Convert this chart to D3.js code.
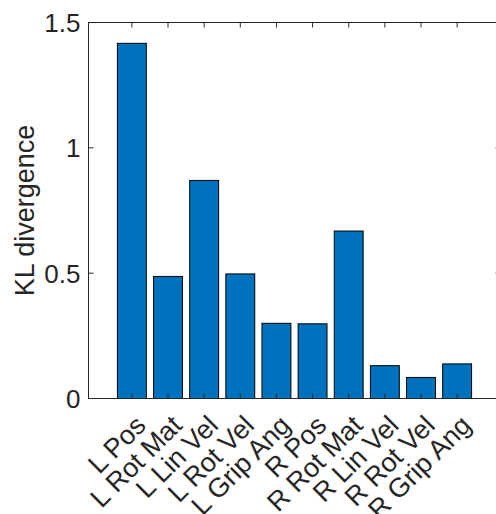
<!DOCTYPE html>
<html><head><meta charset="utf-8">
<script src="https://cdn.jsdelivr.net/npm/d3@7"></script>
<style>body{margin:0;background:#fff}svg{display:block}</style>
</head><body>
<script>
const categories = ["L Pos","L Rot Mat","L Lin Vel","L Rot Vel","L Grip Ang","R Pos","R Rot Mat","R Lin Vel","R Rot Vel","R Grip Ang"];
const values = [1.417,0.487,0.870,0.497,0.300,0.298,0.668,0.131,0.084,0.138];
const yTicks = [0,0.5,1,1.5];
const yTickLabels = ["0","0.5","1","1.5"];
const yLabel = "KL divergence";

const W=496,H=514;
const svg=d3.select("body").append("svg").attr("width",W).attr("height",H);
const L=88.5,R=500.5,T=22.5,B=398.5;
const x=d3.scaleLinear().domain([-0.2,11.2]).range([L,R]);
const y=d3.scaleLinear().domain([0,1.5]).range([B,T]);
const col="#262626", font="Liberation Sans, Arial, Helvetica, sans-serif";
const bw=0.8;

svg.append("g").selectAll("rect").data(values).join("rect")
  .attr("x",(d,i)=>x(i+1-bw/2)).attr("width",(d,i)=>x(i+1+bw/2)-x(i+1-bw/2))
  .attr("y",d=>y(d)).attr("height",d=>y(0)-y(d))
  .attr("fill","#0072BD").attr("stroke","#000").attr("stroke-width",1);

// box
svg.append("rect").attr("x",L).attr("y",T).attr("width",R-L).attr("height",B-T)
  .attr("fill","none").attr("stroke",col).attr("stroke-width",1);

const tl=5;
const xt=d3.range(1,categories.length+1);
svg.append("g").selectAll("line.b").data(xt).join("line")
  .attr("x1",d=>x(d)).attr("x2",d=>x(d)).attr("y1",B).attr("y2",B-tl).attr("stroke",col);
svg.append("g").selectAll("line.t").data(xt).join("line")
  .attr("x1",d=>x(d)).attr("x2",d=>x(d)).attr("y1",T).attr("y2",T+tl).attr("stroke",col);
svg.append("g").selectAll("line.l").data(yTicks).join("line")
  .attr("x1",L).attr("x2",L+tl).attr("y1",d=>y(d)).attr("y2",d=>y(d)).attr("stroke",col);
svg.append("g").selectAll("line.r").data(yTicks).join("line")
  .attr("x1",R).attr("x2",R-tl).attr("y1",d=>y(d)).attr("y2",d=>y(d)).attr("stroke",col);

svg.append("g").selectAll("text").data(yTicks).join("text")
  .attr("x",L-8).attr("y",d=>y(d)).attr("dy","0.36em")
  .attr("text-anchor","end").attr("font-family",font).attr("font-size",26).attr("fill",col)
  .text((d,i)=>yTickLabels[i]);

svg.append("g").selectAll("text").data(categories).join("text")
  .attr("transform",(d,i)=>`translate(${x(i+1)+15.5},${B+28.5}) rotate(-45)`)
  .attr("text-anchor","end")
  .attr("font-family",font).attr("font-size",27).attr("fill",col)
  .text(d=>d);

svg.append("text").attr("transform",`translate(33.5,${(T+B)/2}) rotate(-90)`)
  .attr("text-anchor","middle").attr("font-family",font).attr("font-size",27).attr("fill",col)
  .text(yLabel);
</script>
</body></html>
